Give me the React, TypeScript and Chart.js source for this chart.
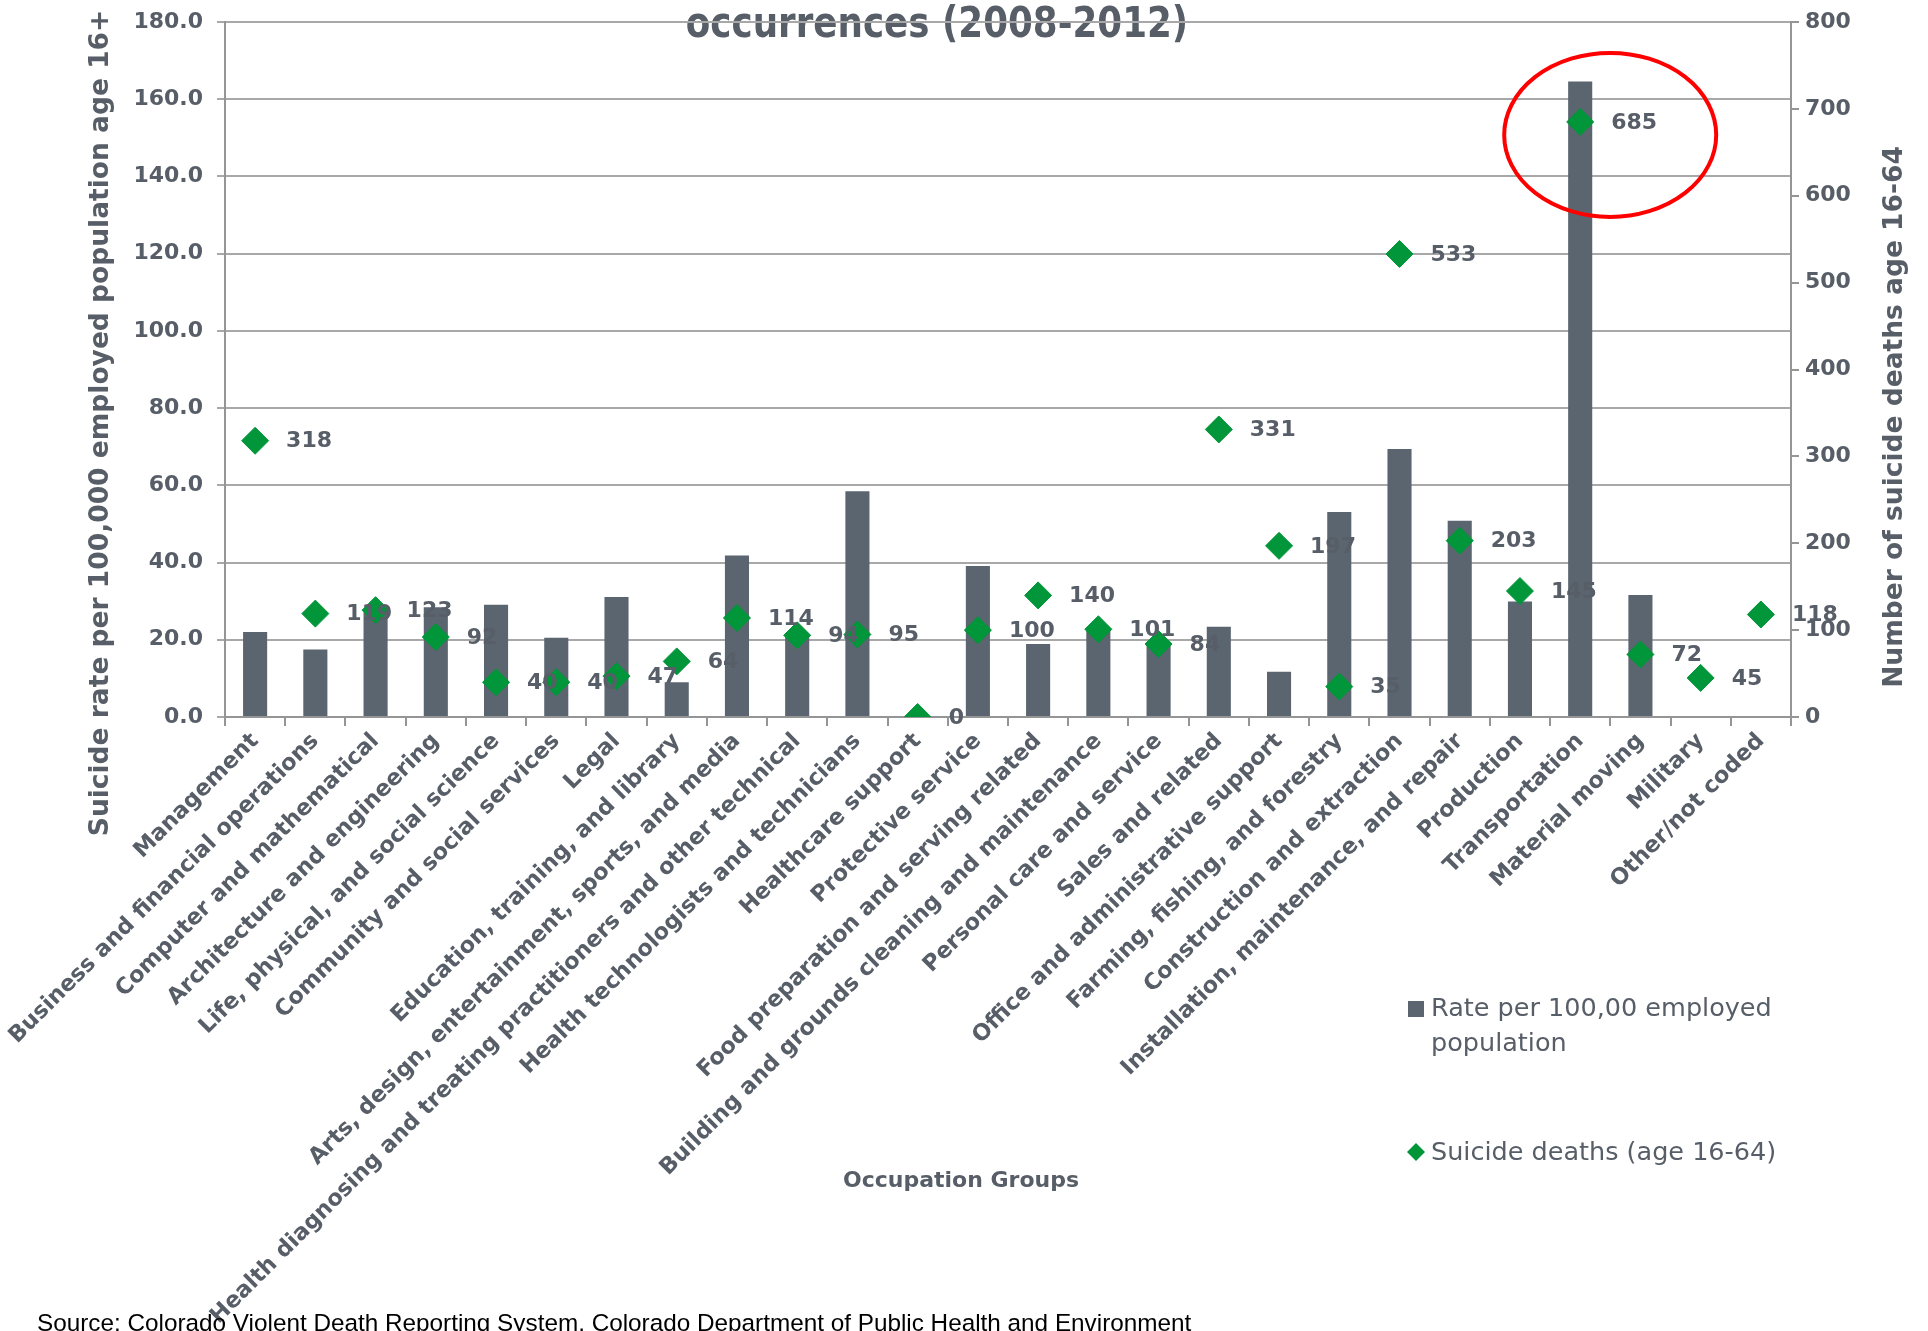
import { useEffect, useRef } from 'react';
import { Chart, registerables } from 'chart.js';

Chart.register(...registerables);

// ---------------- data ----------------
const categories = [
  'Management',
  'Business and financial operations',
  'Computer and mathematical',
  'Architecture and engineering',
  'Life, physical, and social science',
  'Community and social services',
  'Legal',
  'Education, training, and library',
  'Arts, design, entertainment, sports, and media',
  'Health diagnosing and treating practitioners and other technical',
  'Health technologists and technicians',
  'Healthcare support',
  'Protective service',
  'Food preparation and serving related',
  'Building and grounds cleaning and maintenance',
  'Personal care and service',
  'Sales and related',
  'Office and administrative support',
  'Farming, fishing, and forestry',
  'Construction and extraction',
  'Installation, maintenance, and repair',
  'Production',
  'Transportation',
  'Material moving',
  'Military',
  'Other/not coded',
];

const ratePer100k: (number | null)[] = [
  22.0, 17.5, 28.0, 28.4, 29.1, 20.5, 31.1, 9.0, 41.8, 21.0, 58.5, 0, 39.1,
  18.9, 22.5, 19.5, 23.4, 11.7, 53.1, 69.4, 50.8, 29.9, 164.6, 31.6, null, null,
];

const suicideDeaths = [
  318, 119, 123, 92, 40, 40, 47, 64, 114, 94, 95, 0, 100, 140, 101, 84, 331,
  197, 35, 533, 203, 145, 685, 72, 45, 118,
];

const leftTickValues = [0, 20, 40, 60, 80, 100, 120, 140, 160, 180];
const rightTickValues = [0, 100, 200, 300, 400, 500, 600, 700, 800];

const titleText = 'occurrences (2008-2012)';
const leftAxisTitle = 'Suicide rate per 100,000 employed population age 16+';
const rightAxisTitle = 'Number of suicide deaths age 16-64';
const xAxisTitle = 'Occupation Groups';
const rateLegendLines = ['Rate per 100,00 employed', 'population'];
const deathsLegend = 'Suicide deaths (age 16-64)';
const sourceText =
  'Source: Colorado Violent Death Reporting System, Colorado Department of Public Health and Environment';
const highlightedCategory = 'Transportation';

// ---------------- styles ----------------
const FONT = '"DejaVu Sans", sans-serif';
const TEXT = '#575e67';
const BAR = '#5b6570';
const GREEN = '#009639';
const GRID = '#a8a8a8';
const AXIS = '#959595';

const W = 1928;
const H = 1331;

const decorPlugin = {
  id: 'decor',
  beforeDraw(chart: any) {
    const ctx = chart.ctx as CanvasRenderingContext2D;
    ctx.save();
    ctx.fillStyle = TEXT;
    ctx.font = `bold 42px ${FONT}`;
    ctx.textAlign = 'center';
    ctx.textBaseline = 'alphabetic';
    ctx.translate(937, 37);
    ctx.scale(0.85, 1);
    ctx.fillText(titleText, 0, 0);
    ctx.restore();
  },
  afterDatasetsDraw(chart: any) {
    const ctx = chart.ctx as CanvasRenderingContext2D;
    const meta = chart.getDatasetMeta(1);
    ctx.save();
    ctx.fillStyle = TEXT;
    ctx.font = `bold 22px ${FONT}`;
    ctx.textAlign = 'left';
    ctx.textBaseline = 'middle';
    meta.data.forEach((pt: any, i: number) => {
      ctx.fillText(String(suicideDeaths[i]), pt.x + 31, pt.y + 1);
    });
    ctx.restore();
  },
  afterDraw(chart: any) {
    const ctx = chart.ctx as CanvasRenderingContext2D;
    ctx.save();
    // axis titles
    ctx.fillStyle = TEXT;
    ctx.font = `bold 26.5px ${FONT}`;
    ctx.textAlign = 'center';
    ctx.textBaseline = 'middle';
    ctx.save();
    ctx.translate(101, 423);
    ctx.rotate(-Math.PI / 2);
    ctx.fillText(leftAxisTitle, 0, 0);
    ctx.restore();
    ctx.save();
    ctx.translate(1895, 417);
    ctx.rotate(-Math.PI / 2);
    ctx.fillText(rightAxisTitle, 0, 0);
    ctx.restore();

    ctx.font = `bold 22px ${FONT}`;
    ctx.fillText(xAxisTitle, 961, 1181);

    // legend
    ctx.fillStyle = BAR;
    ctx.fillRect(1408, 1001, 16, 16);
    ctx.fillStyle = GREEN;
    ctx.beginPath();
    ctx.moveTo(1416 - 9, 1152);
    ctx.lineTo(1416, 1152 - 9);
    ctx.lineTo(1416 + 9, 1152);
    ctx.lineTo(1416, 1152 + 9);
    ctx.closePath();
    ctx.fill();
    ctx.fillStyle = TEXT;
    ctx.font = `25.5px ${FONT}`;
    ctx.textAlign = 'left';
    ctx.fillText(rateLegendLines[0], 1431, 1009);
    ctx.fillText(rateLegendLines[1], 1431, 1044);
    ctx.fillText(deathsLegend, 1431, 1153);

    // source
    ctx.fillStyle = '#000';
    ctx.font = `24.3px "Liberation Sans", Arial, sans-serif`;
    ctx.textBaseline = 'alphabetic';
    ctx.fillText(sourceText, 37, 1331);

    // red highlight ellipse
    const idx = categories.indexOf(highlightedCategory);
    const x = chart.scales.x.getPixelForValue(idx);
    const y = chart.scales.y1.getPixelForValue(suicideDeaths[idx]);
    ctx.strokeStyle = '#ff0000';
    ctx.lineWidth = 4;
    ctx.beginPath();
    ctx.ellipse(x + 30, y + 13, 106, 82, 0, 0, Math.PI * 2);
    ctx.stroke();
    ctx.restore();
  },
};

const tickFont = { family: FONT, size: 22, weight: 'bold' as const };

export default function App() {
  const ref = useRef<HTMLCanvasElement>(null);

  useEffect(() => {
    const canvas = ref.current;
    if (!canvas) return;
    const chart = new Chart(canvas, {
      type: 'bar',
      data: {
        labels: categories,
        datasets: [
          {
            type: 'bar',
            label: rateLegendLines.join(' '),
            data: ratePer100k,
            backgroundColor: BAR,
            borderWidth: 0,
            barPercentage: 0.4,
            categoryPercentage: 1.0,
            yAxisID: 'y',
            order: 1,
          } as any,
          {
            type: 'line',
            label: deathsLegend,
            data: suicideDeaths,
            showLine: false,
            pointStyle: 'rectRot',
            pointRadius: 13.5,
            pointBorderWidth: 1,
            pointBackgroundColor: GREEN,
            pointBorderColor: GREEN,
            backgroundColor: GREEN,
            borderColor: GREEN,
            yAxisID: 'y1',
            order: 0,
          } as any,
        ],
      },
      options: {
        responsive: false,
        animation: false,
        events: [],
        layout: { padding: { top: 22, left: 0, right: 0, bottom: 0 } },
        plugins: {
          legend: { display: false },
          tooltip: { enabled: false },
          title: { display: false },
        },
        scales: {
          x: {
            type: 'category',
            offset: true,
            grid: {
              offset: true,
              drawOnChartArea: false,
              drawTicks: true,
              tickLength: 9,
              color: AXIS,
              lineWidth: 2,
            },
            border: { display: true, color: AXIS, width: 2 },
            ticks: {
              autoSkip: false,
              maxRotation: 45,
              minRotation: 45,
              padding: 2,
              color: TEXT,
              font: { family: FONT, size: 22.5, weight: 'bold' },
            },
            afterFit: (s: any) => {
              s.height = H - 717;
            },
          },
          y: {
            position: 'left',
            min: 0,
            max: 180,
            grid: { color: GRID, lineWidth: 2, tickLength: 8, drawTicks: true },
            border: { display: true, color: AXIS, width: 2 },
            ticks: {
              padding: 14,
              color: TEXT,
              font: tickFont,
              callback: (v: any) => Number(v).toFixed(1),
            },
            afterBuildTicks: (s: any) => {
              s.ticks = leftTickValues.map((v) => ({ value: v }));
            },
            afterFit: (s: any) => {
              s.width = 225;
              s.paddingTop = 0;
              s.paddingBottom = 0;
            },
          },
          y1: {
            position: 'right',
            min: 0,
            max: 800,
            grid: {
              drawOnChartArea: false,
              drawTicks: true,
              tickLength: 8,
              color: AXIS,
              lineWidth: 2,
            },
            border: { display: true, color: AXIS, width: 2 },
            ticks: {
              padding: 6,
              color: TEXT,
              font: tickFont,
              callback: (v: any) => String(v),
            },
            afterBuildTicks: (s: any) => {
              s.ticks = rightTickValues.map((v) => ({ value: v }));
            },
            afterFit: (s: any) => {
              s.width = W - 1791;
              s.paddingTop = 0;
              s.paddingBottom = 0;
            },
          },
        },
      } as any,
      plugins: [decorPlugin],
    });
    return () => chart.destroy();
  }, []);

  return (
    <div
      style={{
        position: 'fixed',
        left: 0,
        top: 0,
        width: W,
        height: H,
        background: '#ffffff',
        overflow: 'hidden',
      }}
    >
      <canvas ref={ref} width={W} height={H} style={{ display: 'block', width: W, height: H }} />
    </div>
  );
}
